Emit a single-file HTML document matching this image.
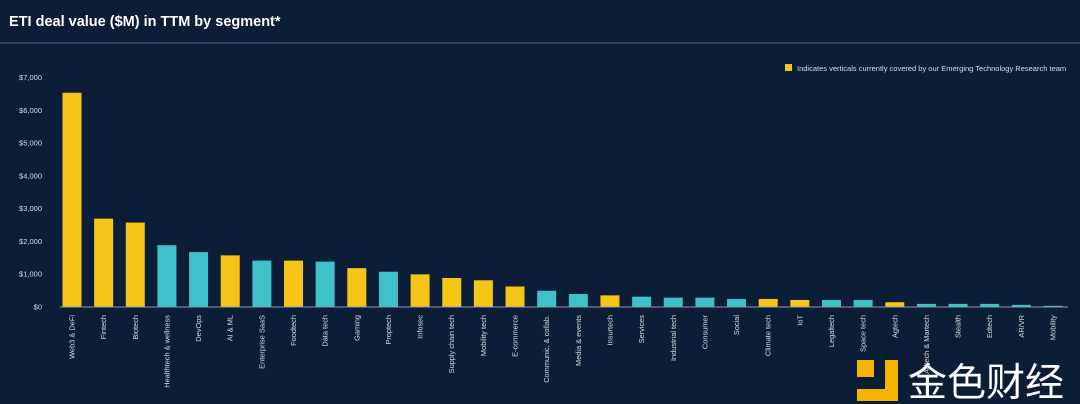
<!DOCTYPE html>
<html><head><meta charset="utf-8"><style>
html,body{margin:0;padding:0;background:#0b1d37;}
svg{display:block;font-family:"Liberation Sans","Noto Sans CJK SC",sans-serif;}
</style></head><body>
<svg id="chart" width="1080" height="404" viewBox="0 0 1080 404">
<rect width="1080" height="404" fill="#0b1d37"/>
<text x="9" y="26" fill="#ffffff" font-size="14.5" font-weight="bold">ETI deal value ($M) in TTM by segment*</text>
<line x1="0" y1="43" x2="1080" y2="43" stroke="#3a4e6b" stroke-width="1.5"/>
<rect x="785" y="64" width="7" height="7" fill="#f5c518"/>
<text x="797" y="71" fill="#d8dde5" font-size="7.5">Indicates verticals currently covered by our Emerging Technology Research team</text>
<g id="yaxis"></g>
<g id="bars"></g>
<g id="xlabels"></g>
<line x1="60" y1="307" x2="1068" y2="307" stroke="#8a9ab0" stroke-width="1"/>
<g>
<rect x="857" y="360" width="17" height="17" fill="#f5b400"/>
<path d="M885 360 h13 v41 h-41 v-12 h28 z" fill="#f5b400"/>
<text x="908" y="396" fill="#ffffff" font-size="39" font-family="'Noto Sans CJK SC',sans-serif">金色财经</text>
</g>
</svg>
<script>
const categories=["Web3 & DeFi","Fintech","Biotech","Healthtech & wellness","DevOps","AI & ML","Enterprise SaaS","Foodtech","Data tech","Gaming","Proptech","Infosec","Supply chain tech","Mobility tech","E-commerce","Communic. & collab.","Media & events","Insurtech","Services","Industrial tech","Consumer","Social","Climate tech","IoT","Legaltech","Space tech","Agtech","Adtech & Martech","Stealth","Edtech","AR/VR","Mobility"];
const values=[6520,2680,2560,1870,1660,1560,1400,1400,1370,1170,1060,980,870,800,610,480,380,340,300,270,270,230,230,200,200,200,130,80,80,80,50,20];
const covered=[1,1,1,0,0,1,0,1,0,1,0,1,1,1,1,0,0,1,0,0,0,0,1,1,0,0,1,0,0,0,0,0];
const yTicks=[0,1000,2000,3000,4000,5000,6000,7000];
const yTickLabels=["$0","$1,000","$2,000","$3,000","$4,000","$5,000","$6,000","$7,000"];
const NS="http://www.w3.org/2000/svg";
const y0=306.5,yTop=77,yMax=7000;
function yScale(v){return y0-(v/yMax)*(y0-yTop);}
const x0=72;
const stepAll=(1053-72)/(categories.length-1);
function xScale(i){return x0+i*stepAll;}
const bw=19;
const ya=document.getElementById('yaxis');
yTicks.forEach((t,i)=>{const tx=document.createElementNS(NS,'text');
tx.setAttribute('x',42);tx.setAttribute('y',yScale(t)+3);tx.setAttribute('text-anchor','end');
tx.setAttribute('fill','#d8dde5');tx.setAttribute('font-size','7.5');tx.textContent=yTickLabels[i];


ya.appendChild(tx);});
const bg=document.getElementById('bars'),xl=document.getElementById('xlabels');
categories.forEach((c,i)=>{const r=document.createElementNS(NS,'rect');
const cx=xScale(i),y=yScale(values[i]);
r.setAttribute('x',cx-bw/2);r.setAttribute('y',y);r.setAttribute('width',bw);r.setAttribute('height',y0-y);
r.setAttribute('fill',covered[i]?'#f5c518':'#3ec1c9');


bg.appendChild(r);
const t=document.createElementNS(NS,'text');
t.setAttribute('transform','translate('+(cx+2.5)+',315) rotate(-90)');
t.setAttribute('text-anchor','end');t.setAttribute('fill','#d8dde5');t.setAttribute('font-size','7.4');
t.textContent=c;


xl.appendChild(t);});
</script>
</body></html>
